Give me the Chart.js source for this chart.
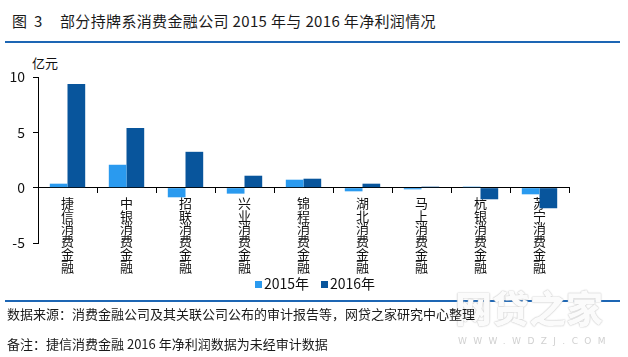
<!DOCTYPE html>
<html><head><meta charset="utf-8">
<script src="https://cdn.jsdelivr.net/npm/chart.js@4/dist/chart.umd.min.js"></script>
<style>
html,body{margin:0;padding:0;background:#fff;}
#wrap{position:relative;width:628px;height:357px;overflow:hidden;font-family:"Noto Sans CJK SC","Microsoft YaHei",sans-serif;color:#1a1a1a;}
#c{position:absolute;left:0;top:0;width:628px;height:357px;}
.t{position:absolute;white-space:nowrap;line-height:1;}
.rule{position:absolute;left:5px;width:615px;height:2px;background:#1d66b4;}
#legend{position:absolute;top:275px;left:0;width:628px;height:16px;}
.li{position:absolute;top:0;font-size:14px;line-height:16px;color:#111;white-space:nowrap;}
.li i{display:inline-block;width:7px;height:7px;margin-right:2px;vertical-align:1px;}
#wm{position:absolute;left:455px;top:289px;font-size:37px;font-weight:900;color:#fbfbfb;text-shadow:0 0 1px #bdbdbd,0 0 2px #d0d0d0;line-height:1;}
#wm2{position:absolute;left:458px;top:337px;font-size:9px;color:#d0d0d0;letter-spacing:6.4px;line-height:1;font-family:"DejaVu Sans",sans-serif;}
</style></head>
<body>
<div id="wrap">
  <div class="t" style="left:12px;top:13px;font-size:15px;">图</div>
  <div class="t" style="left:34px;top:13px;font-size:15px;">3</div>
  <div class="t" style="left:60px;top:13px;font-size:15px;letter-spacing:0.35px;">部分持牌系消费金融公司 2015 年与 2016 年净利润情况</div>
  <div class="rule" style="top:41px;"></div>
  <div class="t" style="left:32px;top:56px;font-size:13px;color:#111;">亿元</div>
  <canvas id="c" width="628" height="357"></canvas>
  <div id="legend"></div>
  <div class="rule" style="top:300px;"></div>
  <div id="wm">网贷之家</div>
  <div id="wm2">WWW.WDZJ.COM</div>
  <div class="t" style="left:7px;top:307px;font-size:13px;">数据来源：消费金融公司及其关联公司公布的审计报告等，网贷之家研究中心整理</div>
  <div class="t" style="left:7px;top:337px;font-size:13px;">备注：捷信消费金融 2016 年净利润数据为未经审计数据</div>
</div>
<script>
const categories = ['捷信消费金融','中银消费金融','招联消费金融','兴业消费金融','锦程消费金融','湖北消费金融','马上消费金融','杭银消费金融','苏宁消费金融'];
const seriesNames = ['2015年','2016年'];
const profit2015 = [0.36, 2.07, -0.87, -0.54, 0.72, -0.33, -0.15, 0.09, -0.60];
const profit2016 = [9.37, 5.40, 3.24, 1.08, 0.81, 0.36, 0.09, -1.05, -1.86];
const yTicks = [-5, 0, 5, 10];

Chart.defaults.font.family = '"Noto Sans CJK SC","Microsoft YaHei",sans-serif';
Chart.defaults.color = '#111';

const chart = new Chart(document.getElementById('c'), {
  type: 'bar',
  data: {
    labels: categories.map(s => Array.from(s)),
    datasets: [
      {label: seriesNames[0], data: profit2015, backgroundColor: '#2a9aef', categoryPercentage: 0.6, barPercentage: 1.0},
      {label: seriesNames[1], data: profit2016, backgroundColor: '#08559c', categoryPercentage: 0.6, barPercentage: 1.0}
    ]
  },
  options: {
    responsive: false,
    animation: false,
    layout: {padding: {left: 0, top: 77, right: 59, bottom: 114}},
    plugins: {legend: {display: false}, tooltip: {enabled: false}},
    scales: {
      y: {
        min: -5, max: 10,
        afterFit: s => { s.width = 38; },
        afterBuildTicks: s => { s.ticks = yTicks.map(v => ({value: v})); },
        grid: {drawOnChartArea: false, drawTicks: true, tickLength: 5, color: '#000'},
        border: {display: true, color: '#000', width: 1},
        ticks: {font: {size: 14}, color: '#111', padding: 8}
      },
      x: {
        position: {y: 0},
        offset: true,
        grid: {offset: true, drawOnChartArea: false, drawTicks: true, tickLength: 5, color: '#000'},
        border: {display: true, color: '#000', width: 1},
        ticks: {autoSkip: false, maxRotation: 0, minRotation: 0, padding: 4, font: {size: 13, lineHeight: 0.98}, color: '#111'}
      }
    }
  }
});

// legend built from the chart's datasets
const leg = document.getElementById('legend');
const legX = [255, 321];
chart.data.datasets.forEach((ds, i) => {
  const d = document.createElement('div');
  d.className = 'li';
  d.style.left = legX[i] + 'px';
  const sw = document.createElement('i');
  sw.style.background = ds.backgroundColor;
  d.appendChild(sw);
  d.appendChild(document.createTextNode(ds.label));
  leg.appendChild(d);
});
</script>
</body></html>
